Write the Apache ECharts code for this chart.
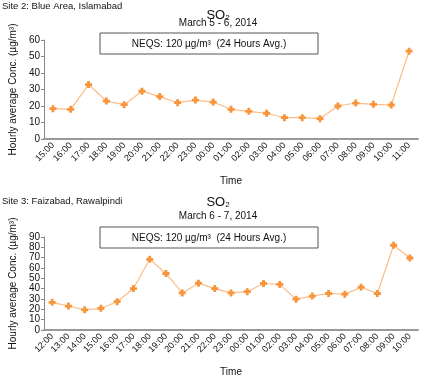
<!DOCTYPE html>
<html>
<head>
<meta charset="utf-8">
<script src="https://cdn.jsdelivr.net/npm/echarts@6/dist/echarts.min.js"></script>
<style>
html, body { margin: 0; padding: 0; background: #fff; }
#chart { width: 421px; height: 378px; }
</style>
</head>
<body>
<div id="chart"></div>
<script>
// Site 2: Blue Area, Islamabad (March 5 - 6, 2014)
var hours1 = ['15:00','16:00','17:00','18:00','19:00','20:00','21:00','22:00','23:00','00:00','01:00',
    '02:00','03:00','04:00','05:00','06:00','07:00','08:00','09:00','10:00','11:00'];
var so2Site2 = [18.4, 18, 33, 23, 20.8, 29, 25.7, 22, 23.6, 22.4, 18, 16.8, 15.6, 12.9, 12.9, 12.3, 20, 21.8, 21, 20.6, 53.2];

// Site 3: Faizabad, Rawalpindi (March 6 - 7, 2014)
var hours2 = ['12:00','13:00','14:00','15:00','16:00','17:00','18:00','19:00','20:00','21:00','22:00','23:00',
    '00:00','01:00','02:00','03:00','04:00','05:00','06:00','07:00','08:00','09:00','10:00'];
var so2Site3 = [26.8, 23.2, 19.5, 21, 27.4, 40.1, 68.4, 54.7, 35.9, 45.3, 40.1, 35.9,
    37.1, 45, 44.1, 29.8, 32.8, 35.3, 34.7, 41.4, 35.3, 82, 69.7];

var lineColor = '#fbbd85';
var markColor = '#f7943c';
// fat plus, like the original star marker
var starPath = 'path://M3,0 L7,0 L7,3 L10,3 L10,7 L7,7 L7,10 L3,10 L3,7 L0,7 L0,3 L3,3 Z';
var fontFam = 'Liberation Sans, Arial, sans-serif';

var dom = document.getElementById('chart');
var myChart = echarts.init(dom, null, {renderer: 'canvas'});

function titleItem(top) {
    return {
        left: 218, top: top, textAlign: 'center',
        text: '{a|SO}{b|2}',
        textStyle: {
            fontWeight: 'normal',
            rich: {
                a: {fontSize: 13, color: '#111', fontFamily: fontFam, fontWeight: 'normal'},
                b: {fontSize: 8, color: '#111', fontFamily: fontFam, fontWeight: 'normal', verticalAlign: 'bottom', padding: [6, 0, 0, 0]}
            }
        },
        padding: 0
    };
}

function smallText(left, top, text) {
    return {
        type: 'text', left: left, top: top,
        style: {text: text, fill: '#111', fontSize: 9.5, fontFamily: fontFam}
    };
}

function neqsBox(top) {
    return [
        {type: 'rect', shape: {x: 100, y: top, width: 218, height: 21},
            style: {fill: '#fff', stroke: '#555', lineWidth: 1}},
        {type: 'text', x: 209, y: top + 11,
            style: {text: 'NEQS: 120 µg/m³  (24 Hours Avg.)', fill: '#111', fontSize: 10,
                fontFamily: fontFam, align: 'center', verticalAlign: 'middle'}}
    ];
}

function xAxisFor(idx, data) {
    return {
        type: 'category', gridIndex: idx, data: data, boundaryGap: true,
        name: 'Time', nameLocation: 'middle', nameGap: 37,
        nameTextStyle: {fontSize: 10, color: '#111', fontFamily: fontFam},
        axisLine: {lineStyle: {color: '#999', width: 2}},
        axisTick: {show: false},
        axisLabel: {rotate: 45, fontSize: 9, color: '#111', fontFamily: fontFam, margin: 5, interval: 0},
        splitLine: {show: false}
    };
}

function yAxisFor(idx, max) {
    return {
        type: 'value', gridIndex: idx, min: 0, max: max, interval: 10,
        name: 'Hourly average Conc. (µg/m³)', nameLocation: 'middle', nameGap: 24,
        nameTextStyle: {fontSize: 10, color: '#111', fontFamily: fontFam},
        axisLine: {show: true, lineStyle: {color: '#888', width: 1}},
        axisTick: {show: true, length: 3, lineStyle: {color: '#888'}},
        axisLabel: {fontSize: 10, color: '#111', fontFamily: fontFam, margin: 4},
        splitLine: {show: false}
    };
}

function lineSeries(idx, data) {
    return {
        type: 'line', xAxisIndex: idx, yAxisIndex: idx, data: data,
        symbol: starPath, symbolSize: 7,
        lineStyle: {color: lineColor, width: 1.2},
        itemStyle: {color: markColor},
        animation: false
    };
}

option = {
    animation: false,
    title: [titleItem(8), titleItem(195)],
    grid: [
        {left: 37, right: 3, top: 40, height: 99},
        {left: 37, right: 3, top: 237, height: 99}
    ],
    xAxis: [xAxisFor(0, hours1), xAxisFor(1, hours2)],
    yAxis: [yAxisFor(0, 60), yAxisFor(1, 90)],
    series: [lineSeries(0, so2Site2), lineSeries(1, so2Site3)],
    graphic: [
        smallText(2, 1, 'Site 2: Blue Area, Islamabad'),
        smallText(2, 196, 'Site 3: Faizabad, Rawalpindi'),
        {type: 'text', x: 218, y: 23, style: {text: 'March 5 - 6, 2014', fill: '#111', fontSize: 10, fontFamily: fontFam, align: 'center', verticalAlign: 'middle'}},
        {type: 'text', x: 218, y: 216, style: {text: 'March 6 - 7, 2014', fill: '#111', fontSize: 10, fontFamily: fontFam, align: 'center', verticalAlign: 'middle'}}
    ].concat(neqsBox(33)).concat(neqsBox(227))
};

myChart.setOption(option, true);
window.onresize = myChart.resize;
</script>
</body>
</html>
